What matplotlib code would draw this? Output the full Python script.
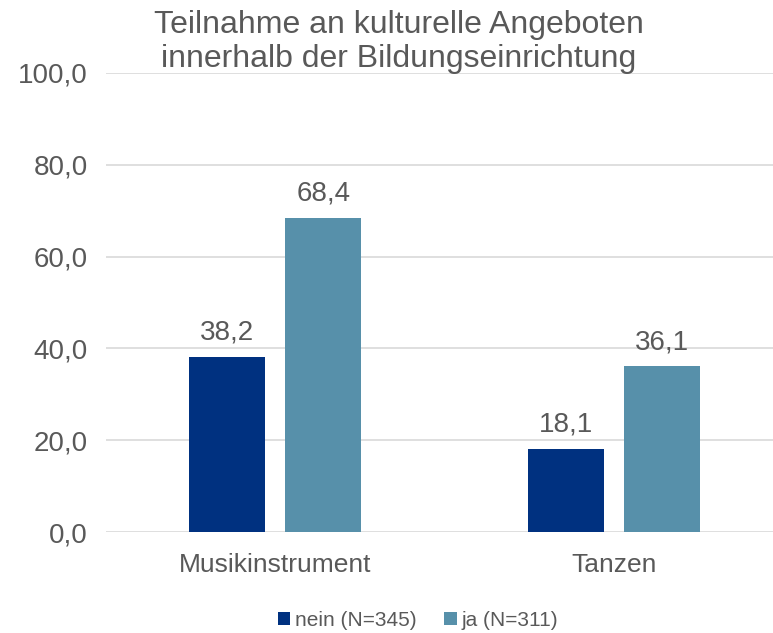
import matplotlib.pyplot as plt
import numpy as np

plt.rcParams['font.family'] = ['Liberation Sans', 'DejaVu Sans']

# ====== Daten ======
kategorien = ['Musikinstrument', 'Tanzen']
nein_werte = [38.2, 18.1]
ja_werte = [68.4, 36.1]
serien = ['nein (N=345)', 'ja (N=311)']
y_ticks = [0, 20, 40, 60, 80, 100]

farbe_nein = '#003180'
farbe_ja = '#5790AA'
text_farbe = '#595959'

fig = plt.figure(figsize=(7.73, 6.33), dpi=100)
ax = fig.add_axes([106 / 773, 101 / 633, 677 / 773, 459 / 633])

x = np.arange(len(kategorien))
breite = 0.225
versatz = 0.142

b1 = ax.bar(x - versatz, nein_werte, breite, color=farbe_nein, label=serien[0], zorder=3)
b2 = ax.bar(x + versatz, ja_werte, breite, color=farbe_ja, label=serien[1], zorder=3)

# Werte über den Balken
for bars in (b1, b2):
    for b in bars:
        h = b.get_height()
        ax.annotate(f'{h:.1f}'.replace('.', ','), (b.get_x() + b.get_width() / 2, h),
                    xytext=(0, 8), textcoords='offset points', ha='center', va='bottom',
                    fontsize=20, color=text_farbe)

ax.set_xlim(-0.5, 1.5)
ax.set_ylim(0, 100)
ax.set_yticks(y_ticks)
ax.set_yticklabels([f'{v:.1f}'.replace('.', ',') for v in y_ticks], fontsize=20, color=text_farbe)
ax.set_xticks(x)
ax.set_xticklabels(kategorien, fontsize=19, color=text_farbe)
ax.tick_params(length=0)
ax.tick_params(axis='x', pad=15)
ax.tick_params(axis='y', pad=13)

ax.yaxis.grid(True, color='#D9D9D9', linewidth=1.2, zorder=0)
for s in ax.spines.values():
    s.set_visible(False)
ax.set_axisbelow(True)

fig.text(399 / 773, 1 - 42 / 633, 'Teilnahme an kulturelle Angeboten\ninnerhalb der Bildungseinrichtung',
         ha='center', va='center', fontsize=23, color=text_farbe, linespacing=1.18)

leg = fig.legend(handles=[b1, b2], labels=serien, loc='center', bbox_to_anchor=(418 / 773, 1 - 620 / 633),
                 ncol=2, frameon=False, fontsize=15, handlelength=0.6, handleheight=0.6,
                 handletextpad=0.25, columnspacing=1.3)
for t in leg.get_texts():
    t.set_color(text_farbe)

fig.savefig('out.png', dpi=100)
